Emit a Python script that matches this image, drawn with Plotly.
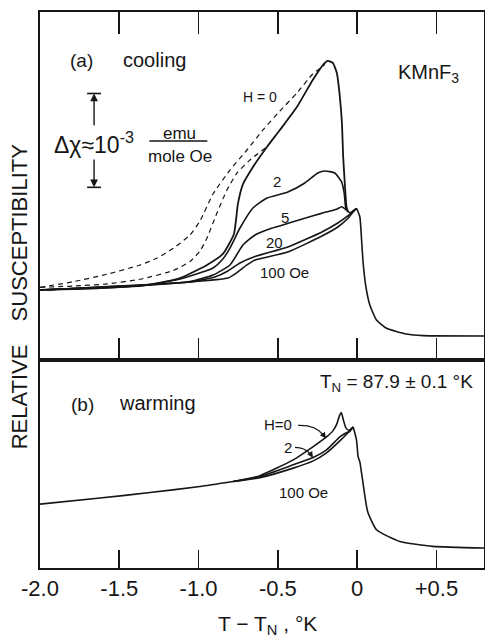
import plotly.graph_objects as go

# ---------------- DATA (T - T_N in K ; relative susceptibility in 1e-3 emu/(mole Oe)) -------------
# (a) cooling
cool_H0_T = [-2.000, -1.621, -1.306, -1.117, -0.947, -0.847, -0.777, -0.752, -0.720, -0.657, -0.569,
             -0.487, -0.380, -0.280, -0.216, -0.185, -0.153, -0.128, -0.109, -0.096, -0.088, -0.078,
             -0.067, -0.057]
cool_H0_X = [0.745, 0.766, 0.803, 0.872, 1.011, 1.128, 1.340, 1.660, 1.870, 2.053, 2.266,
             2.447, 2.691, 2.979, 3.138, 3.181, 3.160, 3.053, 2.798, 2.521, 2.160, 1.883,
             1.628, 1.574]

cool_H2_T = [-2.000, -1.369, -1.117, -0.909, -0.847, -0.802, -0.739, -0.657, -0.569, -0.437, -0.330,
             -0.248, -0.204, -0.141, -0.098, -0.082, -0.073, -0.067, -0.057]
cool_H2_X = [0.745, 0.787, 0.862, 0.979, 1.074, 1.191, 1.404, 1.617, 1.723, 1.787, 1.883,
             1.989, 2.011, 1.989, 1.894, 1.777, 1.628, 1.596, 1.574]

cool_H5_T = [-2.000, -1.306, -1.054, -0.909, -0.802, -0.720, -0.644, -0.540, -0.435, -0.330, -0.225,
             -0.130, -0.098, -0.067, -0.046, -0.004]
cool_H5_X = [0.745, 0.798, 0.835, 0.904, 1.011, 1.223, 1.330, 1.401, 1.454, 1.507, 1.560,
             1.603, 1.631, 1.596, 1.567, 1.614]

cool_H20_T = [-2.000, -1.054, -0.897, -0.815, -0.739, -0.644, -0.437, -0.222, -0.122, -0.059, -0.025, -0.004]
cool_H20_X = [0.745, 0.830, 0.883, 0.947, 1.032, 1.101, 1.202, 1.362, 1.457, 1.532, 1.585, 1.614]

cool_H100_T = [-2.000, -1.054, -0.815, -0.771, -0.695, -0.644, -0.437, -0.222, -0.122, -0.059, -0.025, -0.004]
cool_H100_X = [0.745, 0.830, 0.872, 0.915, 1.011, 1.064, 1.149, 1.319, 1.415, 1.505, 1.574, 1.614]

cool_tail_T = [-0.004, 0.017, 0.028, 0.038, 0.055, 0.080, 0.122, 0.185, 0.311, 0.416, 0.800]
cool_tail_X = [1.614, 1.524, 1.277, 1.029, 0.780, 0.585, 0.426, 0.337, 0.277, 0.259, 0.255]

dash_outer_T = [-2.000, -1.790, -1.579, -1.369, -1.264, -1.159, -1.054, -0.991, -0.909, -0.802, -0.695,
                -0.594, -0.487, -0.380, -0.280, -0.235, -0.204]
dash_outer_X = [0.773, 0.833, 0.912, 1.011, 1.082, 1.188, 1.330, 1.479, 1.766, 2.021, 2.234,
                2.447, 2.649, 2.840, 3.043, 3.101, 3.144]

dash_inner_T = [-2.000, -1.790, -1.579, -1.369, -1.159, -1.054, -0.991, -0.947, -0.884, -0.821, -0.758,
                -0.676, -0.575]
dash_inner_X = [0.773, 0.787, 0.809, 0.859, 0.952, 1.048, 1.160, 1.298, 1.564, 1.809, 1.989,
                2.128, 2.261]

# (b) warming
warm_common_T = [-2.000, -1.621, -1.306, -0.991, -0.781]
warm_common_X = [0.681, 0.745, 0.804, 0.868, 0.921]

warm_H0_T = [-0.781, -0.613, -0.403, -0.277, -0.193, -0.153, -0.128, -0.112, -0.100, -0.087, -0.071, -0.052, -0.025]
warm_H0_X = [0.921, 0.984, 1.152, 1.294, 1.397, 1.461, 1.535, 1.620, 1.657, 1.578, 1.493, 1.466, 1.503]

warm_H2_T = [-0.781, -0.613, -0.403, -0.277, -0.193, -0.109, -0.071, -0.046, -0.025]
warm_H2_X = [0.921, 0.974, 1.099, 1.177, 1.259, 1.397, 1.439, 1.455, 1.503]

warm_H100_T = [-0.781, -0.613, -0.403, -0.277, -0.193, -0.109, -0.059, -0.025]
warm_H100_X = [0.921, 0.962, 1.064, 1.141, 1.226, 1.354, 1.439, 1.503]

warm_tail_T = [-0.025, -0.004, 0.006, 0.017, 0.028, 0.048, 0.067, 0.122, 0.269, 0.477, 0.800]
warm_tail_X = [1.503, 1.365, 1.187, 1.131, 1.011, 0.776, 0.596, 0.407, 0.283, 0.230, 0.213]

tick_vals = [-2.0, -1.5, -1.0, -0.5, 0.0, 0.5]
tick_text = ["-2.0", "-1.5", "-1.0", "-0.5", "0", "+0.5"]

# ---------------- FIGURE ----------------
INK = "#161616"
FONT = "Liberation Sans, Arial, sans-serif"
fig = go.Figure()

def solid(T, X, ax="1", w=1.6):
    xa = "x" if ax == "1" else "x2"
    ya = "y" if ax == "1" else "y2"
    fig.add_trace(go.Scatter(x=T, y=X, mode="lines", xaxis=xa, yaxis=ya,
                             line=dict(color=INK, width=w, shape="spline", smoothing=0.5),
                             hoverinfo="skip", showlegend=False))

def dashed(T, X):
    fig.add_trace(go.Scatter(x=T, y=X, mode="lines", xaxis="x", yaxis="y",
                             line=dict(color=INK, width=1.2, dash="5px,4px", shape="spline", smoothing=0.5),
                             hoverinfo="skip", showlegend=False))

dashed(dash_outer_T, dash_outer_X)
dashed(dash_inner_T, dash_inner_X)
solid(cool_H0_T, cool_H0_X, w=1.8)
solid(cool_H2_T, cool_H2_X)
solid(cool_H5_T, cool_H5_X)
solid(cool_H20_T, cool_H20_X)
solid(cool_H100_T, cool_H100_X)
solid(cool_tail_T, cool_tail_X)

solid(warm_common_T, warm_common_X, ax="2")
solid(warm_H0_T, warm_H0_X, ax="2")
solid(warm_H2_T, warm_H2_X, ax="2")
solid(warm_H100_T, warm_H100_X, ax="2")
solid(warm_tail_T, warm_tail_X, ax="2")

split = 0.3741
axis_common = dict(showgrid=False, zeroline=False, showline=True, linecolor=INK, linewidth=2,
                   automargin=False)
fig.update_layout(
    template="none",
    width=485, height=638,
    margin=dict(l=40, r=1, t=12, b=70, pad=0),
    paper_bgcolor="white", plot_bgcolor="white",
    font=dict(family=FONT, color=INK),
    xaxis=dict(**axis_common, domain=[0, 1], range=[-2.0, 0.8], anchor="y",
               tickvals=tick_vals, ticks="inside", ticklen=22, tickwidth=1.8, tickcolor=INK,
               mirror="ticks", showticklabels=False, matches="x2"),
    xaxis2=dict(**axis_common, domain=[0, 1], range=[-2.0, 0.8], anchor="y2",
                tickvals=tick_vals, ticktext=tick_text, ticks="inside", ticklen=18, tickwidth=1.8,
                tickcolor=INK, mirror=True, tickfont=dict(size=22, family=FONT, color=INK)),
    yaxis=dict(**axis_common, domain=[split, 1], range=[0, 3.702], anchor="x",
               showticklabels=False, ticks="", mirror=True),
    yaxis2=dict(**axis_common, domain=[0, split], range=[0, 2.216], anchor="x2",
                showticklabels=False, ticks="", mirror=True),
)

ann = []
def txt(x, y, s, size, xref="x", yref="y", **kw):
    ann.append(dict(x=x, y=y, xref=xref, yref=yref, text=s, showarrow=False,
                    xanchor="center", yanchor="middle",
                    font=dict(size=size, family=FONT, color=INK), **kw))

# panel (a)
txt(-1.741, 3.181, "(a)", 19)
txt(-1.281, 3.191, "cooling", 20)
txt(0.452, 3.053, "KMnF<sub>3</sub>", 20)
txt(-0.613, 2.798, "H = 0", 14)
txt(-0.506, 1.894, "2", 15)
txt(-0.456, 1.511, "5", 15)
txt(-0.519, 1.245, "20", 15)
txt(-0.456, 0.926, "100 Oe", 15)
txt(-1.659, 2.309, "Δχ≈10<sup>-3</sup>", 23)
txt(-1.120, 2.405, "emu", 17)
txt(-1.120, 2.165, "mole Oe", 17)

# scale bar
bx = -1.659
fig.add_shape(type="line", x0=-1.703, x1=-1.615, y0=2.835, y1=2.835, xref="x", yref="y",
              line=dict(color=INK, width=1.6))
fig.add_shape(type="line", x0=-1.703, x1=-1.615, y0=1.837, y1=1.837, xref="x", yref="y",
              line=dict(color=INK, width=1.6))
fig.add_shape(type="line", x0=-1.310, x1=-0.945, y0=2.330, y1=2.330, xref="x", yref="y",
              line=dict(color=INK, width=1.4))
for tip, tail in [(2.835, 2.480), (1.837, 2.150)]:
    ann.append(dict(x=bx, y=tip, ax=bx, ay=tail, xref="x", yref="y", axref="x", ayref="y",
                    text="", showarrow=True, arrowhead=2, arrowsize=1.1, arrowwidth=1.4,
                    arrowcolor=INK, standoff=0))

# panel (b)
txt(0.250, 1.971, "T<sub>N</sub> = 87.9 ± 0.1 °K", 19, yref="y2", xref="x2")
txt(-1.735, 1.737, "(b)", 19, xref="x2", yref="y2")
txt(-1.256, 1.759, "warming", 20, xref="x2", yref="y2")
txt(-0.500, 1.524, "H=0", 15, xref="x2", yref="y2")
txt(-0.437, 1.280, "2", 15, xref="x2", yref="y2")
txt(-0.336, 0.801, "100 Oe", 15, xref="x2", yref="y2")

# curved pointers
fig.add_shape(type="path", xref="x2", yref="y2",
              path="M -0.372,1.519 Q -0.262,1.525 -0.214,1.418",
              line=dict(color=INK, width=1.2))
fig.add_shape(type="path", xref="x2", yref="y2",
              path="M -0.392,1.285 Q -0.327,1.285 -0.290,1.205",
              line=dict(color=INK, width=1.2))
ann.append(dict(x=-0.197, y=1.380, ax=-0.216, ay=1.425, xref="x2", yref="y2", axref="x2", ayref="y2",
                text="", showarrow=True, arrowhead=2, arrowsize=1.0, arrowwidth=1.2, arrowcolor=INK, standoff=0))
ann.append(dict(x=-0.279, y=1.175, ax=-0.292, ay=1.210, xref="x2", yref="y2", axref="x2", ayref="y2",
                text="", showarrow=True, arrowhead=2, arrowsize=1.0, arrowwidth=1.2, arrowcolor=INK, standoff=0))

# axis titles
txt(0.513, -0.102, "T − T<sub>N</sub> , °K", 21, xref="paper", yref="paper")
txt(-0.0473, 0.6036, "SUSCEPTIBILITY", 22, xref="paper", yref="paper", textangle=-90)
txt(-0.0473, 0.3088, "RELATIVE", 22, xref="paper", yref="paper", textangle=-90)

fig.update_layout(annotations=ann)
fig.write_html("out.html", config={"displayModeBar": False, "staticPlot": True},
               post_script="document.body.style.margin='0';document.body.style.overflow='hidden';")
